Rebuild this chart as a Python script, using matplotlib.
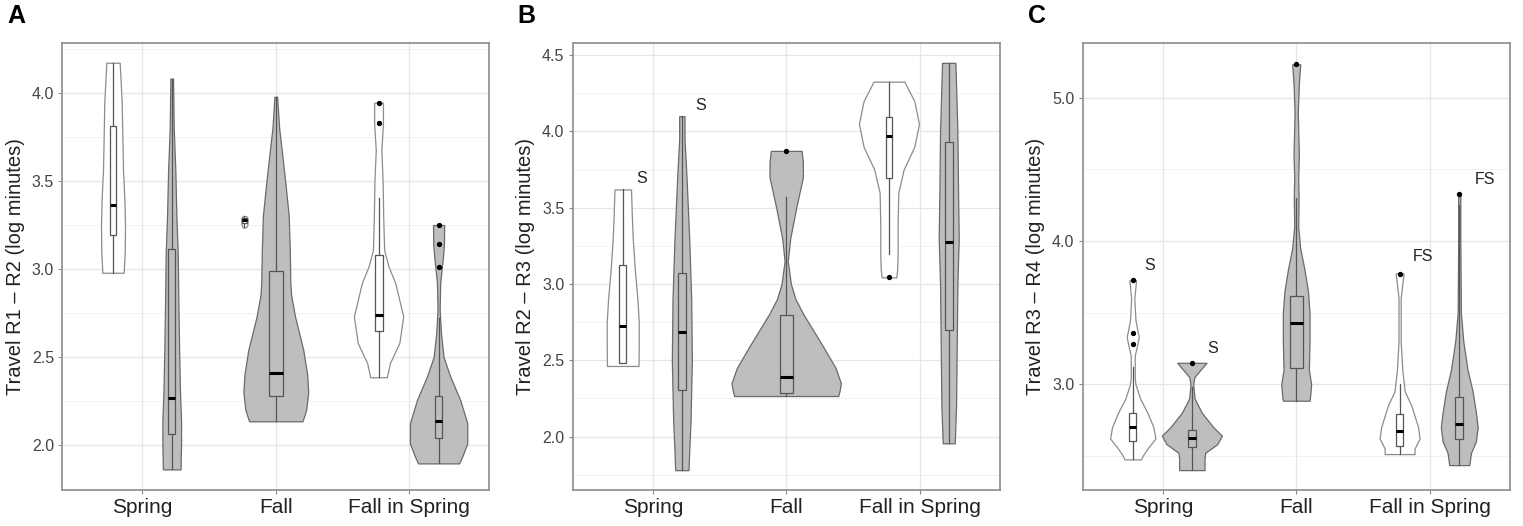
import numpy as np
import matplotlib.pyplot as plt

plt.rcParams['font.family'] = ['Liberation Sans', 'DejaVu Sans']

categories = ['Spring', 'Fall', 'Fall in Spring']

# ---- panel A : Travel R1 - R2 ----
# violin outlines: y levels and half widths
a_sw_y = [2.978, 3.1, 3.25, 3.4, 3.56, 3.75, 3.95, 4.1, 4.17]
a_sw_w = [0.08, 0.088, 0.09, 0.085, 0.075, 0.07, 0.065, 0.055, 0.05]
a_sw_box = [2.978, 3.19, 3.364, 3.81, 4.17]
a_sw_out = []

a_sg_y = [1.862, 2.0, 2.14, 2.3, 2.52, 2.8, 3.09, 3.3, 3.56, 3.8, 4.08]
a_sg_w = [0.066, 0.07, 0.07, 0.062, 0.056, 0.05, 0.045, 0.035, 0.027, 0.015, 0.01]
a_sg_box = [1.862, 2.06, 2.266, 3.11, 4.08]
a_sg_out = []

a_fw_y = [3.235, 3.25, 3.275, 3.29, 3.30]
a_fw_w = [0.012, 0.022, 0.024, 0.022, 0.012]
a_fw_box = [3.235, 3.258, 3.275, 3.29, 3.30]
a_fw_out = []

a_fg_y = [2.135, 2.2, 2.3, 2.4, 2.54, 2.65, 2.73, 2.85, 2.92, 3.1, 3.3, 3.5, 3.675, 3.8, 3.977]
a_fg_w = [0.2, 0.228, 0.243, 0.235, 0.206, 0.17, 0.144, 0.115, 0.109, 0.105, 0.097, 0.07, 0.044, 0.025, 0.01]
a_fg_box = [2.135, 2.278, 2.41, 2.99, 3.977]
a_fg_out = []

a_xw_y = [2.385, 2.465, 2.58, 2.73, 2.92, 3.013, 3.107, 3.296, 3.486, 3.675, 3.826, 3.943]
a_xw_w = [0.0625, 0.085, 0.156, 0.185, 0.125, 0.075, 0.042, 0.035, 0.031, 0.021, 0.033, 0.033]
a_xw_box = [2.385, 2.65, 2.74, 3.078, 3.40]
a_xw_out = [3.943, 3.826]

a_xg_y = [1.896, 1.94, 2.01, 2.124, 2.256, 2.39, 2.50, 2.635, 2.767, 2.92, 3.013, 3.07, 3.14, 3.249]
a_xg_w = [0.154, 0.18, 0.215, 0.215, 0.162, 0.087, 0.037, 0.018, 0.008, 0.012, 0.025, 0.033, 0.04, 0.042]
a_xg_box = [1.896, 2.04, 2.136, 2.28, 2.72]
a_xg_out = [3.249, 3.14, 3.013]

# ---- panel B : Travel R2 - R3 ----
b_sw_y = [2.463, 2.6, 2.75, 2.9, 3.1, 3.3, 3.45, 3.62]
b_sw_w = [0.118, 0.12, 0.12, 0.11, 0.09, 0.075, 0.068, 0.062]
b_sw_box = [2.48, 2.48, 2.725, 3.125, 3.62]
b_sw_out = []

b_sg_y = [1.78, 1.9, 2.1, 2.5, 2.9, 3.3, 3.7, 3.95, 4.1]
b_sg_w = [0.05, 0.055, 0.065, 0.075, 0.07, 0.055, 0.035, 0.02, 0.02]
b_sg_box = [1.78, 2.306, 2.683, 3.074, 4.1]
b_sg_out = []

b_fg_y = [2.266, 2.3, 2.35, 2.45, 2.6, 2.7, 2.8, 2.9, 3.0, 3.15, 3.3, 3.5, 3.7, 3.8, 3.873]
b_fg_w = [0.39, 0.4, 0.41, 0.37, 0.27, 0.2, 0.13, 0.07, 0.035, 0.012, 0.03, 0.075, 0.125, 0.125, 0.115]
b_fg_box = [2.266, 2.284, 2.393, 2.80, 3.57]
b_fg_out = [3.873]

b_xw_y = [3.044, 3.1, 3.2, 3.4, 3.6, 3.75, 3.9, 4.05, 4.2, 4.327]
b_xw_w = [0.055, 0.062, 0.065, 0.065, 0.07, 0.11, 0.19, 0.225, 0.19, 0.115]
b_xw_box = [3.2, 3.697, 3.97, 4.096, 4.327]
b_xw_out = [3.044]

b_xg_y = [1.956, 2.2, 2.6, 3.0, 3.3, 3.6, 4.0, 4.3, 4.45]
b_xg_w = [0.045, 0.055, 0.06, 0.065, 0.075, 0.07, 0.065, 0.055, 0.05]
b_xg_box = [1.956, 2.699, 3.277, 3.932, 4.45]
b_xg_out = []

# ---- panel C : Travel R3 - R4 ----
c_sw_y = [2.474, 2.5, 2.55, 2.62, 2.7, 2.8, 2.9, 3.0, 3.05, 3.2, 3.28, 3.33, 3.4, 3.45, 3.6, 3.726]
c_sw_w = [0.062, 0.075, 0.11, 0.17, 0.155, 0.11, 0.055, 0.02, 0.015, 0.015, 0.035, 0.045, 0.03, 0.02, 0.012, 0.025]
c_sw_box = [2.474, 2.604, 2.702, 2.795, 3.12]
c_sw_out = [3.726, 3.354, 3.277]

c_sg_y = [2.399, 2.48, 2.52, 2.58, 2.64, 2.7, 2.8, 2.9, 3.0, 3.05, 3.1, 3.149]
c_sg_w = [0.095, 0.095, 0.1, 0.19, 0.225, 0.16, 0.075, 0.02, 0.01, 0.02, 0.065, 0.11]
c_sg_box = [2.399, 2.562, 2.62, 2.679, 2.98]
c_sg_out = [3.149]

c_fg_y = [2.884, 2.92, 3.0, 3.1, 3.3, 3.5, 3.65, 3.8, 3.95, 4.1, 4.3, 4.45, 4.6, 4.9, 5.1, 5.235]
c_fg_w = [0.1, 0.105, 0.112, 0.095, 0.1, 0.1, 0.088, 0.062, 0.03, 0.015, 0.018, 0.015, 0.02, 0.012, 0.02, 0.03]
c_fg_box = [2.884, 3.114, 3.424, 3.617, 4.3]
c_fg_out = [5.235]

c_xw_y = [2.511, 2.55, 2.62, 2.7, 2.85, 2.95, 3.1, 3.3, 3.6, 3.7, 3.773]
c_xw_w = [0.112, 0.112, 0.15, 0.138, 0.088, 0.038, 0.02, 0.008, 0.008, 0.02, 0.03]
c_xw_box = [2.511, 2.567, 2.674, 2.79, 3.0]
c_xw_out = [3.773]

c_xg_y = [2.434, 2.52, 2.6, 2.7, 2.8, 2.95, 3.1, 3.3, 3.5, 4.0, 4.332]
c_xg_w = [0.075, 0.088, 0.125, 0.138, 0.125, 0.1, 0.062, 0.03, 0.012, 0.008, 0.008]
c_xg_box = [2.434, 2.614, 2.72, 2.912, 4.25]
c_xg_out = [4.332]

GREY = '#bebebe'
WHITE = '#ffffff'


def draw_violin(ax, x, ys, ws, fill, box, outs, bw):
    ys = np.array(ys)
    ws = np.array(ws)
    edge = '#6a6a6a' if fill == GREY else '#8c8c8c'
    ax.fill_betweenx(ys, x - ws, x + ws, facecolor=fill, edgecolor=edge,
                     linewidth=0.9, zorder=2)
    lo, q1, med, q3, hi = box
    ax.plot([x, x], [lo, q1], color='#555555', lw=0.9, zorder=3)
    ax.plot([x, x], [q3, hi], color='#555555', lw=0.9, zorder=3)
    ax.add_patch(plt.Rectangle((x - bw, q1), 2 * bw, q3 - q1, facecolor=fill,
                               edgecolor='#555555', lw=0.9, zorder=3))
    ax.plot([x - bw, x + bw], [med, med], color='black', lw=2.2, zorder=4,
            solid_capstyle='butt')
    if outs:
        ax.scatter([x] * len(outs), outs, s=8, color='black', zorder=5)


panels = [
    dict(label='A', ylabel='Travel R1 \u2013 R2 (log minutes)', ylim=(1.745, 4.282),
         ticks=[2.0, 2.5, 3.0, 3.5, 4.0], minor=[2.25, 2.75, 3.25, 3.75, 4.25],
         left=62.3,
         groups=[(0.78, a_sw_y, a_sw_w, WHITE, a_sw_box, a_sw_out, 0.023),
                 (1.22, a_sg_y, a_sg_w, GREY, a_sg_box, a_sg_out, 0.025),
                 (1.765, a_fw_y, a_fw_w, WHITE, a_fw_box, a_fw_out, 0.018),
                 (2.0, a_fg_y, a_fg_w, GREY, a_fg_box, a_fg_out, 0.054),
                 (2.77, a_xw_y, a_xw_w, WHITE, a_xw_box, a_xw_out, 0.03),
                 (3.22, a_xg_y, a_xg_w, GREY, a_xg_box, a_xg_out, 0.025)],
         notes=[]),
    dict(label='B', ylabel='Travel R2 \u2013 R3 (log minutes)', ylim=(1.65, 4.58),
         ticks=[2.0, 2.5, 3.0, 3.5, 4.0, 4.5], minor=[1.75, 2.25, 2.75, 3.25, 3.75, 4.25],
         left=572.7,
         groups=[(0.775, b_sw_y, b_sw_w, WHITE, b_sw_box, b_sw_out, 0.025),
                 (1.218, b_sg_y, b_sg_w, GREY, b_sg_box, b_sg_out, 0.03),
                 (2.0, b_fg_y, b_fg_w, GREY, b_fg_box, b_fg_out, 0.05),
                 (2.77, b_xw_y, b_xw_w, WHITE, b_xw_box, b_xw_out, 0.025),
                 (3.218, b_xg_y, b_xg_w, GREY, b_xg_box, b_xg_out, 0.03)],
         notes=[(0.88, 3.69, 'S'), (1.32, 4.17, 'S')]),
    dict(label='C', ylabel='Travel R3 \u2013 R4 (log minutes)', ylim=(2.26, 5.384),
         ticks=[3.0, 4.0, 5.0], minor=[2.5, 3.5, 4.5],
         left=1082.7,
         groups=[(0.775, c_sw_y, c_sw_w, WHITE, c_sw_box, c_sw_out, 0.0275),
                 (1.218, c_sg_y, c_sg_w, GREY, c_sg_box, c_sg_out, 0.0275),
                 (2.0, c_fg_y, c_fg_w, GREY, c_fg_box, c_fg_out, 0.05),
                 (2.775, c_xw_y, c_xw_w, WHITE, c_xw_box, c_xw_out, 0.0275),
                 (3.222, c_xg_y, c_xg_w, GREY, c_xg_box, c_xg_out, 0.031)],
         notes=[(0.86, 3.83, 'S'), (1.33, 3.25, 'S'), (2.87, 3.89, 'FS'), (3.34, 4.43, 'FS')]),
]

W, H = 1523, 526
fig = plt.figure(figsize=(W / 100, H / 100), dpi=100)

for p in panels:
    ax = fig.add_axes([p['left'] / W, 1 - 490 / H, 427 / W, 447 / H])
    for m in p['minor']:
        ax.axhline(m, color='#f0f0f0', lw=0.6, zorder=0)
    for t in p['ticks']:
        ax.axhline(t, color='#e6e6e6', lw=0.9, zorder=0)
    for xc in [1, 2, 3]:
        ax.axvline(xc, color='#e6e6e6', lw=0.9, zorder=0)
    for g in p['groups']:
        draw_violin(ax, *g)
    for nx, ny, nt in p['notes']:
        ax.text(nx, ny, nt, fontsize=11.5, color='#222222', ha='left', va='center')
    ax.set_xlim(0.4, 3.6)
    ax.set_ylim(*p['ylim'])
    ax.set_xticks([1, 2, 3])
    ax.set_xticklabels(categories, fontsize=15, color='#222222')
    ax.set_yticks(p['ticks'])
    ax.set_yticklabels([f'{t:.1f}' for t in p['ticks']], fontsize=11.5, color='#444444')
    ax.tick_params(length=3, color='#888888', pad=3)
    ax.set_ylabel(p['ylabel'], fontsize=14.5, color='#222222', labelpad=5)
    for s in ax.spines.values():
        s.set_color('#8c8c8c')
        s.set_linewidth(1.2)
    fig.text((p['left'] - 55) / W, 1 - 16 / H, p['label'], fontsize=18,
             fontweight='bold', ha='left', va='center')

fig.savefig('out.png', dpi=100)
